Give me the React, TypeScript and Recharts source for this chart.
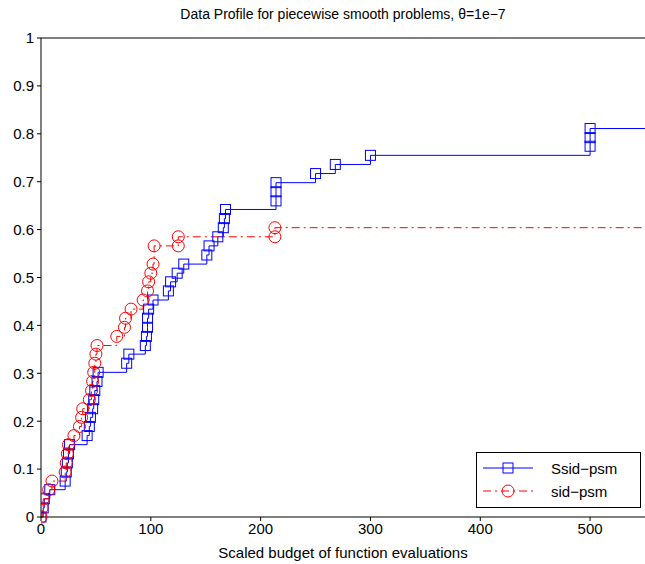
import { ComposedChart, Line, XAxis, YAxis, ReferenceLine } from 'recharts'

const ssidX = [0, 2, 3, 8, 22, 23, 24, 25, 26, 42, 44, 45, 47, 48, 49, 51, 52, 78, 80, 95, 96, 97, 97, 98, 102, 116, 118, 124, 130, 151, 153, 161, 166, 167, 168, 214, 214, 214, 250, 268, 300, 500, 500, 500, 550]
const ssidY = [0, 0.019, 0.038, 0.057, 0.075, 0.094, 0.113, 0.132, 0.151, 0.17, 0.189, 0.208, 0.226, 0.245, 0.264, 0.283, 0.302, 0.321, 0.34, 0.358, 0.377, 0.396, 0.415, 0.434, 0.453, 0.472, 0.491, 0.509, 0.528, 0.547, 0.566, 0.585, 0.604, 0.623, 0.642, 0.66, 0.679, 0.698, 0.717, 0.736, 0.755, 0.774, 0.792, 0.811, 0.811]
const sidX = [0, 1, 2, 7, 10, 22, 23, 24, 25, 30, 35, 37, 38, 44, 46, 47, 48, 49, 50, 51, 69, 76, 77, 82, 93, 97, 98, 100, 102, 103, 125, 125, 213, 213, 550]
const sidY = [0, 0.019, 0.038, 0.057, 0.075, 0.094, 0.113, 0.132, 0.151, 0.17, 0.189, 0.208, 0.226, 0.245, 0.264, 0.283, 0.302, 0.321, 0.34, 0.358, 0.377, 0.396, 0.415, 0.434, 0.453, 0.472, 0.491, 0.509, 0.528, 0.566, 0.566, 0.585, 0.585, 0.604, 0.604]
const xTicks = [0, 100, 200, 300, 400, 500]
const yTicks = [0, 0.1, 0.2, 0.3, 0.4, 0.5, 0.6, 0.7, 0.8, 0.9, 1]

const ssid = ssidX.map((x, i) => ({ x, y: ssidY[i] }))
const sid = sidX.map((x, i) => ({ x, y: sidY[i] }))

const font = 'Liberation Sans, Arial, sans-serif'

const Square = (p: any) => {
  if (p.index === ssid.length - 1) return <g key={p.index} />
  return <rect key={p.index} x={p.cx - 5} y={p.cy - 5} width={10} height={10} fill='none' stroke='#0000ff' strokeWidth={1} />
}
const Circ = (p: any) => {
  if (p.index === sid.length - 1) return <g key={p.index} />
  return <circle key={p.index} cx={p.cx} cy={p.cy} r={6} fill='none' stroke='#ff0000' strokeWidth={1} />
}

export default function App() {
  return (
    <div style={{ position: 'absolute', left: 0, top: 0, width: 645, height: 564, background: '#fff', fontFamily: font }}>
      <div style={{ position: 'absolute', top: 6, left: 41, width: 604, textAlign: 'center', fontSize: 14 }}>
        Data Profile for piecewise smooth problems, θ=1e−7
      </div>
      <ComposedChart width={645} height={564} margin={{ top: 38, right: 0, left: 0, bottom: 0 }}>
        <XAxis dataKey='x' type='number' domain={[0, 550]} ticks={xTicks} allowDataOverflow
          stroke='#000' tick={{ fill: '#000', fontSize: 15, fontFamily: font }} tickSize={4} tickMargin={2} height={47}
          label={{ value: 'Scaled budget of function evaluations', position: 'insideBottom', offset: 6, fill: '#000', fontSize: 15, fontFamily: font }} />
        <YAxis type='number' domain={[0, 1]} ticks={yTicks} stroke='#000' width={41}
          tick={{ fill: '#000', fontSize: 15, fontFamily: font }} tickSize={4} tickMargin={3} />
        <ReferenceLine y={1} stroke='#000' />
        <Line data={ssid} dataKey='y' type='stepAfter' stroke='#0000ff' strokeWidth={1} dot={Square} isAnimationActive={false} />
        <Line data={sid} dataKey='y' type='stepAfter' stroke='#ff0000' strokeWidth={1} strokeDasharray='8 4 2 4' dot={Circ} isAnimationActive={false} />
      </ComposedChart>
      <div style={{ position: 'absolute', left: 476, top: 452, width: 163, height: 54, border: '1px solid #000', background: '#fff', fontSize: 15 }}>
        <svg width={163} height={54} style={{ position: 'absolute', left: 0, top: 0 }}>
          <line x1={6} x2={56} y1={15} y2={15} stroke='#0000ff' />
          <rect x={26} y={10} width={10} height={10} fill='none' stroke='#0000ff' />
          <line x1={6} x2={56} y1={38} y2={38} stroke='#ff0000' strokeDasharray='8 4 2 4' />
          <circle cx={31} cy={38} r={6} fill='none' stroke='#ff0000' />
          <text x={74} y={21} fontSize={15} fontFamily={font}>Ssid−psm</text>
          <text x={74} y={44} fontSize={15} fontFamily={font}>sid−psm</text>
        </svg>
      </div>
    </div>
  )
}
